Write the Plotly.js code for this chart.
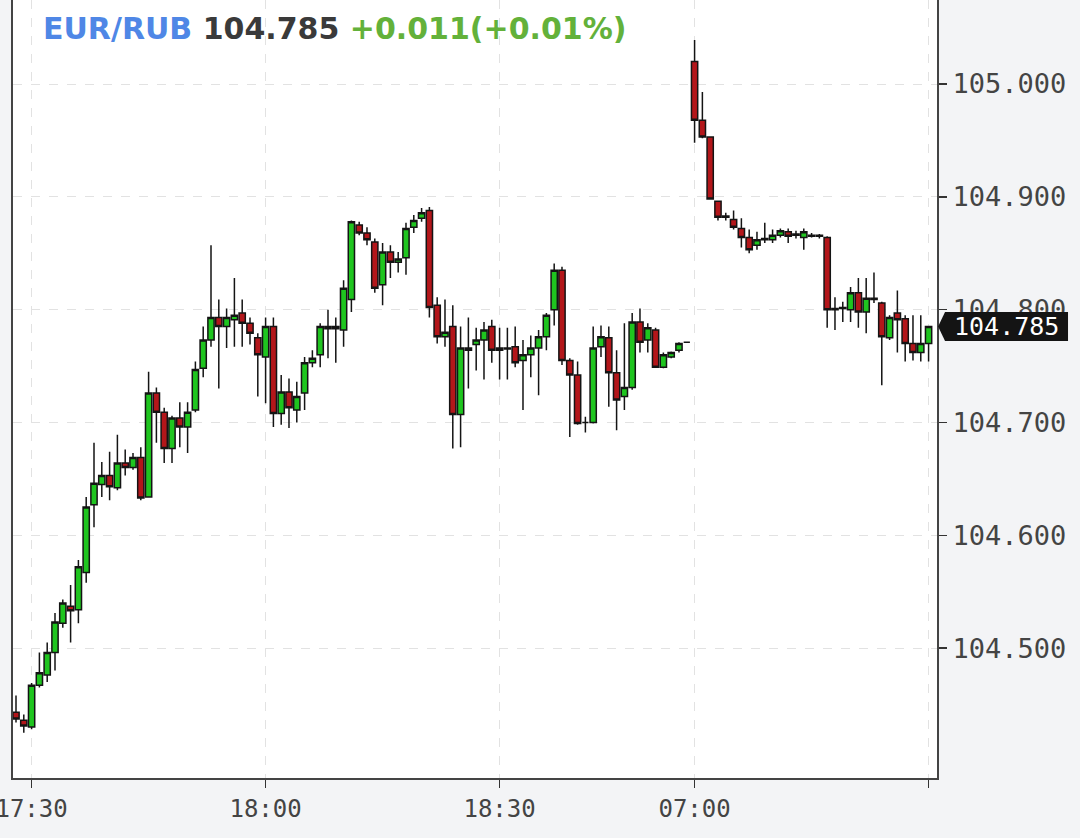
<!DOCTYPE html>
<html><head><meta charset="utf-8">
<script src="https://cdn.plot.ly/plotly-3.0.1.min.js"></script>
<style>html,body{margin:0;padding:0;background:#f3f4f6;overflow:hidden}</style>
</head><body><div id="chart" style="width:1080px;height:838px"></div>
<script>
// time labels: session 1 17:28-18:54, session 2 07:00-07:30 (1-minute bars)
function minuteLabels(h, m, count) {
  const out = [];
  for (let i = 0; i < count; i++) {
    const t = h * 60 + m + i;
    out.push(String(Math.floor(t / 60)).padStart(2, '0') + ':' + String(t % 60).padStart(2, '0'));
  }
  return out;
}
const times = minuteLabels(17, 28, 87).concat(minuteLabels(7, 0, 31));

const openP = [
104.443,104.436,104.430,104.467,104.476,104.496,104.522,104.537,104.534,104.567,
104.627,104.645,104.653,104.642,104.664,104.660,104.669,104.634,104.726,104.709,
104.677,104.704,104.696,104.711,104.748,104.773,104.793,104.785,104.791,104.797,
104.788,104.775,104.758,104.785,104.708,104.727,104.711,104.726,104.753,104.760,
104.785,104.783,104.782,104.809,104.875,104.868,104.860,104.822,104.851,104.842,
104.846,104.873,104.881,104.888,104.804,104.776,104.785,104.707,104.766,104.769,
104.773,104.785,104.764,104.766,104.767,104.755,104.760,104.766,104.776,104.800,
104.835,104.755,104.742,104.700,104.700,104.767,104.775,104.744,104.723,104.731,
104.789,104.773,104.782,104.749,104.758,104.764,104.771,
105.020,104.968,104.953,104.896,104.882,104.880,104.872,104.864,104.857,104.862,
104.862,104.866,104.869,104.866,104.864,104.865,104.866,104.864,104.800,104.801,
104.800,104.815,104.798,104.810,104.806,104.775,104.797,104.792,104.770,104.762,
104.770];
const highP = [
104.458,104.441,104.469,104.496,104.505,104.531,104.543,104.556,104.578,104.634,
104.682,104.665,104.674,104.689,104.676,104.673,104.678,104.745,104.731,104.713,
104.706,104.718,104.718,104.754,104.785,104.857,104.809,104.801,104.828,104.809,
104.793,104.779,104.793,104.793,104.742,104.739,104.736,104.758,104.764,104.788,
104.800,104.793,104.826,104.879,104.878,104.873,104.863,104.859,104.857,104.851,
104.877,104.884,104.890,104.891,104.811,104.809,104.804,104.785,104.793,104.784,
104.789,104.791,104.784,104.784,104.785,104.773,104.777,104.782,104.797,104.841,
104.838,104.757,104.754,104.705,104.785,104.786,104.785,104.764,104.788,104.797,
104.801,104.788,104.784,104.762,104.763,104.771,104.771,
105.039,104.993,104.953,104.896,104.886,104.888,104.881,104.871,104.869,104.877,
104.871,104.872,104.872,104.870,104.872,104.868,104.867,104.865,104.811,104.807,
104.820,104.828,104.828,104.833,104.807,104.795,104.817,104.795,104.795,104.795,
104.785];
const lowP = [
104.434,104.425,104.428,104.465,104.470,104.480,104.518,104.505,104.522,104.558,
104.607,104.634,104.631,104.640,104.653,104.658,104.631,104.634,104.682,104.664,
104.664,104.678,104.673,104.709,104.740,104.767,104.730,104.766,104.767,104.767,
104.769,104.723,104.717,104.696,104.698,104.695,104.700,104.711,104.749,104.749,
104.757,104.753,104.767,104.798,104.866,104.857,104.815,104.804,104.828,104.833,
104.831,104.868,104.878,104.793,104.770,104.767,104.677,104.678,104.730,104.746,
104.738,104.753,104.738,104.738,104.749,104.711,104.740,104.724,104.764,104.786,
104.751,104.687,104.698,104.691,104.699,104.758,104.714,104.693,104.711,104.729,
104.762,104.762,104.749,104.748,104.757,104.762,104.771,
104.948,104.952,104.898,104.879,104.879,104.871,104.855,104.850,104.853,104.859,
104.859,104.864,104.859,104.863,104.853,104.864,104.863,104.784,104.782,104.789,
104.789,104.784,104.779,104.806,104.733,104.773,104.762,104.754,104.755,104.754,
104.754];
const closeP = [
104.437,104.431,104.467,104.478,104.496,104.523,104.540,104.533,104.572,104.625,
104.646,104.653,104.643,104.664,104.660,104.669,104.633,104.726,104.709,104.677,
104.704,104.696,104.709,104.747,104.773,104.793,104.785,104.793,104.795,104.788,
104.779,104.760,104.785,104.708,104.727,104.713,104.723,104.753,104.757,104.785,
104.783,104.785,104.819,104.878,104.868,104.862,104.819,104.851,104.842,104.845,
104.872,104.879,104.886,104.802,104.776,104.780,104.707,104.766,104.764,104.773,
104.782,104.764,104.766,104.765,104.753,104.760,104.766,104.776,104.795,104.835,
104.755,104.742,104.699,104.700,104.766,104.776,104.744,104.720,104.731,104.789,
104.771,104.784,104.749,104.760,104.762,104.770,104.771,
104.968,104.953,104.898,104.882,104.883,104.873,104.864,104.853,104.862,104.863,
104.866,104.870,104.865,104.867,104.869,104.866,104.865,104.800,104.801,104.802,
104.815,104.798,104.810,104.809,104.776,104.793,104.791,104.770,104.762,104.770,
104.785];

const tickVals = ['17:30', '18:00', '18:30', '07:00', '07:30'];
const tickText = ['17:30', '18:00', '18:30', '07:00', ''];
const yTicks = [104.5, 104.6, 104.7, 104.8, 104.9, 105.0];
const symbol = 'EUR/RUB';
const lastPrice = 104.785;
const change = '+0.011';
const changePct = '(+0.01%)';

const yMin = 104.3848, yMax = 105.0745;
const plotH = 778;
const py = (lastPrice - yMin) / (yMax - yMin);
const hh = 14.5 / plotH;
const xa = 1.0012, xb = 1.0087, xc = 1.1418;

const trace = {
  type: 'candlestick',
  x: times, open: openP, high: highP, low: lowP, close: closeP,
  increasing: {fillcolor: '#1fc51f', line: {color: '#141414', width: 1.5}},
  decreasing: {fillcolor: '#b3161a', line: {color: '#141414', width: 1.5}},
  whiskerwidth: 0,
  hoverinfo: 'skip'
};

const layout = {
  width: 1080, height: 838,
  margin: {l: 13, r: 143, t: 0, b: 60, pad: 0},
  paper_bgcolor: '#f3f4f6', plot_bgcolor: '#ffffff',
  showlegend: false,
  boxgap: 0.2,
  boxgroupgap: 0,
  xaxis: {
    type: 'category',
    range: [-0.385, 118.08],
    rangeslider: {visible: false},
    tickmode: 'array', tickvals: tickVals, ticktext: tickText,
    ticks: 'outside', ticklen: 8, tickwidth: 1.5, tickcolor: '#333',
    showline: true, linecolor: '#444', linewidth: 2,
    showgrid: true, gridcolor: '#e2e2e2', griddash: 'dash', gridwidth: 1,
    tickfont: {family: 'DejaVu Sans Mono', size: 24, color: '#444'},
    fixedrange: true
  },
  yaxis: {
    side: 'right',
    range: [yMin, yMax],
    tickmode: 'array', tickvals: yTicks,
    tickformat: '.3f',
    ticks: 'outside', ticklen: 8, tickwidth: 1.5, tickcolor: '#333',
    showline: true, linecolor: '#444', linewidth: 2, mirror: true,
    showgrid: true, gridcolor: '#e2e2e2', griddash: 'dash', gridwidth: 1,
    zeroline: false,
    tickfont: {family: 'DejaVu Sans Mono', size: 27, color: '#444'},
    fixedrange: true
  },
  shapes: [{
    type: 'path', xref: 'paper', yref: 'paper', layer: 'above',
    path: `M ${xa},${py} L ${xb},${py + hh} L ${xc},${py + hh} L ${xc},${py - hh} L ${xb},${py - hh} Z`,
    fillcolor: '#141414', line: {width: 0}
  }],
  annotations: [{
    xref: 'paper', yref: 'paper', x: (xb + xc) / 2, y: py,
    xanchor: 'center', yanchor: 'middle', showarrow: false,
    text: lastPrice.toFixed(3),
    font: {family: 'DejaVu Sans Mono', size: 25, color: '#ffffff'}
  }, {
    xref: 'paper', yref: 'paper', x: 28 / 924, y: 1 - 28 / plotH,
    xanchor: 'left', yanchor: 'middle', showarrow: false,
    text: `<b><span style="color:#4f87e6">${symbol}</span> <span style="color:#3a3a3a">${lastPrice.toFixed(3)}</span> <span style="color:#63b13a">${change}${changePct}</span></b>`,
    font: {family: 'DejaVu Sans', size: 30, color: '#333'}
  }]
};

Plotly.newPlot('chart', [trace], layout, {displayModeBar: false, staticPlot: true});
</script></body></html>
